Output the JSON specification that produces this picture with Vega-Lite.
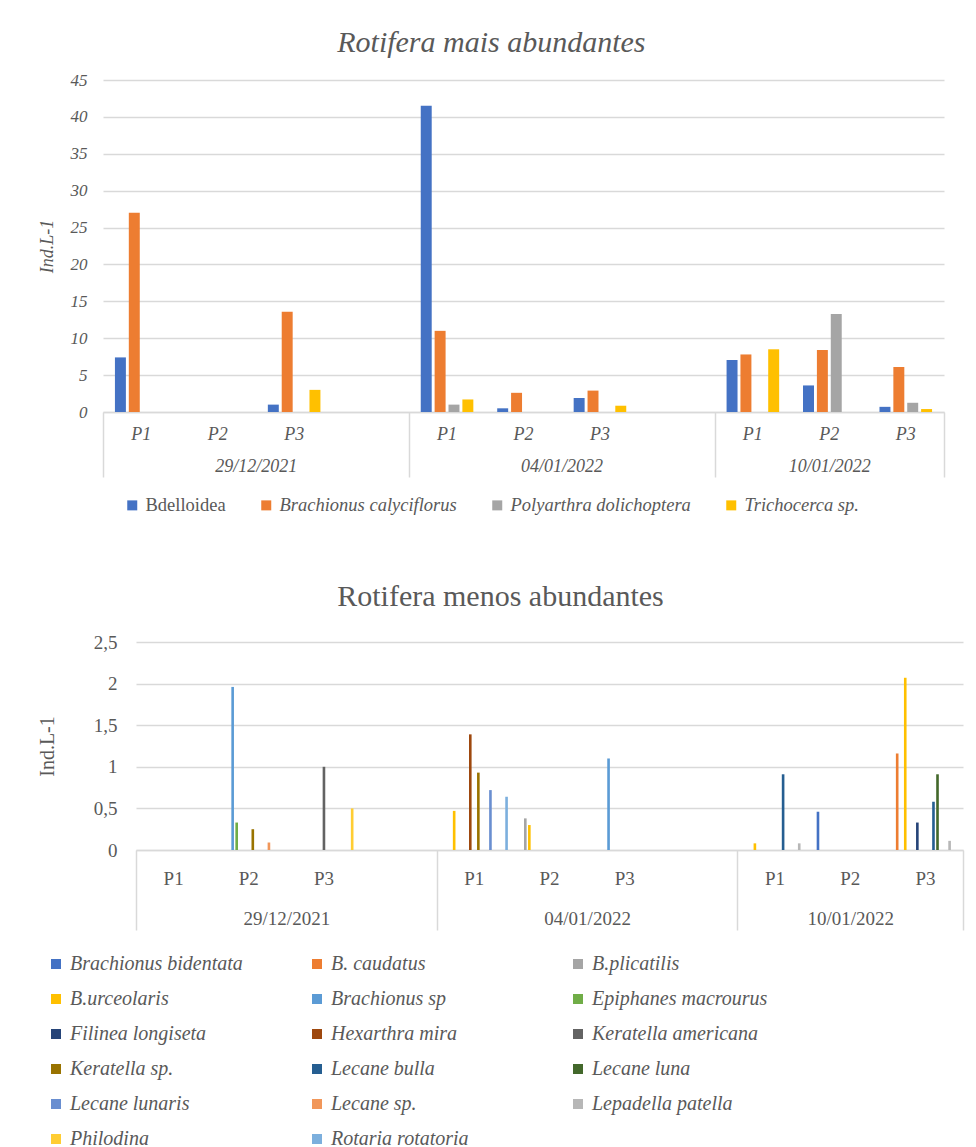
{
  "$schema": "https://vega.github.io/schema/vega-lite/v6.json",
  "background": "white",
  "padding": {"left": 37, "top": 28, "right": 5, "bottom": 0},
  "spacing": 67,
  "resolve": {"scale": {"color": "independent", "xOffset": "independent", "x": "independent", "y": "independent"}, "legend": {"color": "independent"}},
  "config": {
    "view": {"stroke": null},
    "font": "Liberation Serif",
    "axis": {"labelColor": "#595959", "titleColor": "#595959", "labelFont": "Liberation Serif", "titleFont": "Liberation Serif", "titleFontWeight": "normal"},
    "legend": {"labelFont": "Liberation Serif", "labelColor": "#595959", "symbolType": "square", "symbolSize": 100, "symbolStrokeWidth": 0, "labelOffset": 4, "labelLimit": 400, "title": null}
  },
  "datasets": {
    "mais": [
      {"cat": "29/12/2021|P1", "species": "Bdelloidea", "value": 7.4},
      {"cat": "29/12/2021|P1", "species": "Brachionus calyciflorus", "value": 27.0},
      {"cat": "29/12/2021|P3", "species": "Bdelloidea", "value": 1.0},
      {"cat": "29/12/2021|P3", "species": "Brachionus calyciflorus", "value": 13.6},
      {"cat": "29/12/2021|P3", "species": "Trichocerca sp.", "value": 3.0},
      {"cat": "04/01/2022|P1", "species": "Bdelloidea", "value": 41.5},
      {"cat": "04/01/2022|P1", "species": "Brachionus calyciflorus", "value": 11.0},
      {"cat": "04/01/2022|P1", "species": "Polyarthra dolichoptera", "value": 1.0},
      {"cat": "04/01/2022|P1", "species": "Trichocerca sp.", "value": 1.7},
      {"cat": "04/01/2022|P2", "species": "Bdelloidea", "value": 0.5},
      {"cat": "04/01/2022|P2", "species": "Brachionus calyciflorus", "value": 2.6},
      {"cat": "04/01/2022|P3", "species": "Bdelloidea", "value": 1.9},
      {"cat": "04/01/2022|P3", "species": "Brachionus calyciflorus", "value": 2.9},
      {"cat": "04/01/2022|P3", "species": "Trichocerca sp.", "value": 0.85},
      {"cat": "10/01/2022|P1", "species": "Bdelloidea", "value": 7.05},
      {"cat": "10/01/2022|P1", "species": "Brachionus calyciflorus", "value": 7.8},
      {"cat": "10/01/2022|P1", "species": "Trichocerca sp.", "value": 8.5},
      {"cat": "10/01/2022|P2", "species": "Bdelloidea", "value": 3.6},
      {"cat": "10/01/2022|P2", "species": "Brachionus calyciflorus", "value": 8.4},
      {"cat": "10/01/2022|P2", "species": "Polyarthra dolichoptera", "value": 13.3},
      {"cat": "10/01/2022|P3", "species": "Bdelloidea", "value": 0.7},
      {"cat": "10/01/2022|P3", "species": "Brachionus calyciflorus", "value": 6.1},
      {"cat": "10/01/2022|P3", "species": "Polyarthra dolichoptera", "value": 1.25},
      {"cat": "10/01/2022|P3", "species": "Trichocerca sp.", "value": 0.4}
    ],
    "menos": [
      {"cat": "29/12/2021|P2", "species": "Brachionus sp", "value": 1.96},
      {"cat": "29/12/2021|P2", "species": "Epiphanes macrourus", "value": 0.33},
      {"cat": "29/12/2021|P2", "species": "Keratella sp.", "value": 0.25},
      {"cat": "29/12/2021|P2", "species": "Lecane sp.", "value": 0.09},
      {"cat": "29/12/2021|P3", "species": "Keratella americana", "value": 1.0},
      {"cat": "29/12/2021|P3", "species": "Philodina", "value": 0.5},
      {"cat": "04/01/2022|P1", "species": "B.urceolaris", "value": 0.47},
      {"cat": "04/01/2022|P1", "species": "Hexarthra mira", "value": 1.39},
      {"cat": "04/01/2022|P1", "species": "Keratella sp.", "value": 0.93},
      {"cat": "04/01/2022|P1", "species": "Lecane lunaris", "value": 0.72},
      {"cat": "04/01/2022|P1", "species": "Rotaria rotatoria", "value": 0.64},
      {"cat": "04/01/2022|P2", "species": "B.plicatilis", "value": 0.38},
      {"cat": "04/01/2022|P2", "species": "B.urceolaris", "value": 0.3},
      {"cat": "04/01/2022|P3", "species": "Brachionus sp", "value": 1.1},
      {"cat": "10/01/2022|P1", "species": "B.urceolaris", "value": 0.08},
      {"cat": "10/01/2022|P1", "species": "Lecane bulla", "value": 0.91},
      {"cat": "10/01/2022|P1", "species": "Lepadella patella", "value": 0.08},
      {"cat": "10/01/2022|P2", "species": "Brachionus bidentata", "value": 0.46},
      {"cat": "10/01/2022|P3", "species": "B. caudatus", "value": 1.16},
      {"cat": "10/01/2022|P3", "species": "B.urceolaris", "value": 2.07},
      {"cat": "10/01/2022|P3", "species": "Filinea longiseta", "value": 0.33},
      {"cat": "10/01/2022|P3", "species": "Lecane bulla", "value": 0.58},
      {"cat": "10/01/2022|P3", "species": "Lecane luna", "value": 0.91},
      {"cat": "10/01/2022|P3", "species": "Lepadella patella", "value": 0.11}
    ]
  },
  "vconcat": [
    {
      "title": {"text": "Rotifera mais abundantes", "font": "Liberation Serif", "fontSize": 30, "fontStyle": "italic", "fontWeight": "normal", "color": "#595959", "frame": "bounds", "anchor": "middle", "offset": 13},
      "width": 841,
      "height": 332,
      "data": {"name": "mais"},
      "layer": [
        {
          "mark": {"type": "bar"},
          "encoding": {
            "x": {
              "field": "cat", "type": "nominal",
              "scale": {"domain": ["29/12/2021|P1", "29/12/2021|P2", "29/12/2021|P3", "29/12/2021|", "04/01/2022|P1", "04/01/2022|P2", "04/01/2022|P3", "04/01/2022|", "10/01/2022|P1", "10/01/2022|P2", "10/01/2022|P3"], "paddingInner": 0, "paddingOuter": 0},
              "axis": {"orient": "bottom", "title": null, "labelExpr": "datum.value ? split(datum.value, '|')[1] : ''", "labelAngle": 0, "ticks": false, "domain": true, "domainColor": "#d9d9d9", "domainWidth": 1.5, "grid": false, "labelPadding": 13, "labelFontSize": 18, "labelFontStyle": "italic"}
            },
            "xOffset": {
              "field": "species", "type": "nominal",
              "scale": {"domain": ["Bdelloidea", "Brachionus calyciflorus", "Polyarthra dolichoptera", "Trichocerca sp."], "paddingInner": 0.21, "paddingOuter": 0.86}
            },
            "y": {
              "field": "value", "type": "quantitative",
              "scale": {"domain": [0, 45]},
              "axis": {"title": "Ind.L-1", "values": [0, 5, 10, 15, 20, 25, 30, 35, 40, 45], "grid": true, "gridColor": "#d9d9d9", "gridWidth": 1.5, "domain": false, "ticks": false, "labelFontStyle": "italic", "labelFontSize": 17, "labelPadding": 16, "titleFontStyle": "italic", "titleFontSize": 18, "titlePadding": 14}
            },
            "color": {
              "field": "species", "type": "nominal",
              "scale": {"domain": ["Bdelloidea", "Brachionus calyciflorus", "Polyarthra dolichoptera", "Trichocerca sp."], "range": ["#4472C4", "#ED7D31", "#A5A5A5", "#FFC000"]},
              "legend": {"orient": "none", "legendX": 20, "legendY": 416, "direction": "horizontal", "labelFontSize": 18.5, "columnPadding": 31, "encode": {"labels": {"update": {"fontStyle": {"signal": "datum.value === 'Bdelloidea' ? 'normal' : 'italic'"}}}}}
            }
          }
        },
        {
          "mark": {"type": "point", "opacity": 0},
          "encoding": {
            "x": {
              "field": "cat", "type": "nominal",
              "scale": {"domain": ["29/12/2021|P1", "29/12/2021|P2", "29/12/2021|P3", "29/12/2021|", "04/01/2022|P1", "04/01/2022|P2", "04/01/2022|P3", "04/01/2022|", "10/01/2022|P1", "10/01/2022|P2", "10/01/2022|P3"], "paddingInner": 0, "paddingOuter": 0},
              "axis": {"orient": "bottom", "title": null, "domain": false, "grid": false, "ticks": true, "tickBand": "extent", "tickSize": 65, "tickWidth": 1.5,
                "tickColor": {"condition": {"test": "datum.extra || datum.value === '29/12/2021|' || datum.value === '04/01/2022|' || datum.value === '10/01/2022|P3'", "value": "#d9d9d9"}, "value": "rgba(0,0,0,0)"},
                "labelExpr": "datum.value && indexof(datum.value, '|P2') > 0 ? split(datum.value, '|')[0] : ''",
                "labelAngle": 0, "labelPadding": -20, "labelFontSize": 18, "labelFontStyle": "italic",
                "labelOffset": {"condition": {"test": "datum.value === '10/01/2022|P2'", "value": 0}, "value": 38}}
            }
          }
        }
      ],
      "resolve": {"axis": {"x": "independent"}}
    },
    {
      "title": {"text": "Rotifera menos abundantes", "font": "Liberation Serif", "fontSize": 30, "fontWeight": "normal", "color": "#595959", "frame": "bounds", "anchor": "middle", "offset": 21},
      "width": 860,
      "height": 208,
      "data": {"name": "menos"},
      "layer": [
        {
          "mark": {"type": "bar"},
          "encoding": {
            "x": {
              "field": "cat", "type": "nominal",
              "scale": {"domain": ["29/12/2021|P1", "29/12/2021|P2", "29/12/2021|P3", "29/12/2021|", "04/01/2022|P1", "04/01/2022|P2", "04/01/2022|P3", "04/01/2022|", "10/01/2022|P1", "10/01/2022|P2", "10/01/2022|P3"], "range": [33, 860], "paddingInner": 0, "paddingOuter": 0},
              "axis": {"orient": "bottom", "title": null, "labelExpr": "datum.value ? split(datum.value, '|')[1] : ''", "labelAngle": 0, "ticks": false, "domain": true, "domainColor": "#d9d9d9", "domainWidth": 1.5, "grid": false, "labelPadding": 19, "labelFontSize": 19}
            },
            "xOffset": {
              "field": "species", "type": "nominal",
              "scale": {"domain": ["Brachionus bidentata", "B. caudatus", "B.plicatilis", "B.urceolaris", "Brachionus sp", "Epiphanes macrourus", "Filinea longiseta", "Hexarthra mira", "Keratella americana", "Keratella sp.", "Lecane bulla", "Lecane luna", "Lecane lunaris", "Lecane sp.", "Lepadella patella", "Philodina", "Rotaria rotatoria"], "paddingInner": 0.35, "paddingOuter": 1.07}
            },
            "y": {
              "field": "value", "type": "quantitative",
              "scale": {"domain": [0, 2.5]},
              "axis": {"title": "Ind.L-1", "values": [0, 0.5, 1, 1.5, 2, 2.5], "labelExpr": "replace(format(datum.value, '.1~f'), '.', ',')", "grid": true, "gridColor": "#d9d9d9", "gridWidth": 1.5, "domain": false, "ticks": false, "labelFontSize": 19, "labelPadding": -14, "titleFontSize": 20, "titlePadding": 36}
            },
            "color": {
              "field": "species", "type": "nominal",
              "scale": {"domain": ["Brachionus bidentata", "B. caudatus", "B.plicatilis", "B.urceolaris", "Brachionus sp", "Epiphanes macrourus", "Filinea longiseta", "Hexarthra mira", "Keratella americana", "Keratella sp.", "Lecane bulla", "Lecane luna", "Lecane lunaris", "Lecane sp.", "Lepadella patella", "Philodina", "Rotaria rotatoria"], "range": ["#4472C4", "#ED7D31", "#A5A5A5", "#FFC000", "#5B9BD5", "#70AD47", "#264478", "#9E480E", "#636363", "#997300", "#255E91", "#43682B", "#698ED0", "#F1975A", "#B7B7B7", "#FFCD33", "#7CAFDD"]},
              "legend": {"orient": "none", "legendX": -57, "legendY": 312, "direction": "horizontal", "columns": 3, "gridAlign": "all", "labelFontSize": 20, "labelFontStyle": "italic", "columnPadding": 61, "rowPadding": 15}
            }
          }
        },
        {
          "mark": {"type": "point", "opacity": 0},
          "encoding": {
            "x": {
              "field": "cat", "type": "nominal",
              "scale": {"domain": ["29/12/2021|P1", "29/12/2021|P2", "29/12/2021|P3", "29/12/2021|", "04/01/2022|P1", "04/01/2022|P2", "04/01/2022|P3", "04/01/2022|", "10/01/2022|P1", "10/01/2022|P2", "10/01/2022|P3"], "range": [33, 860], "paddingInner": 0, "paddingOuter": 0},
              "axis": {"orient": "bottom", "title": null, "domain": false, "grid": false, "ticks": true, "tickBand": "extent", "tickSize": 80, "tickWidth": 1.5,
                "tickColor": {"condition": {"test": "datum.extra || datum.value === '29/12/2021|' || datum.value === '04/01/2022|' || datum.value === '10/01/2022|P3'", "value": "#d9d9d9"}, "value": "rgba(0,0,0,0)"},
                "labelExpr": "datum.value && indexof(datum.value, '|P2') > 0 ? split(datum.value, '|')[0] : ''",
                "labelAngle": 0, "labelPadding": -21, "labelFontSize": 19,
                "labelOffset": {"condition": {"test": "datum.value === '10/01/2022|P2'", "value": 0}, "value": 37.6}}
            }
          }
        }
      ],
      "resolve": {"axis": {"x": "independent"}}
    }
  ]
}
